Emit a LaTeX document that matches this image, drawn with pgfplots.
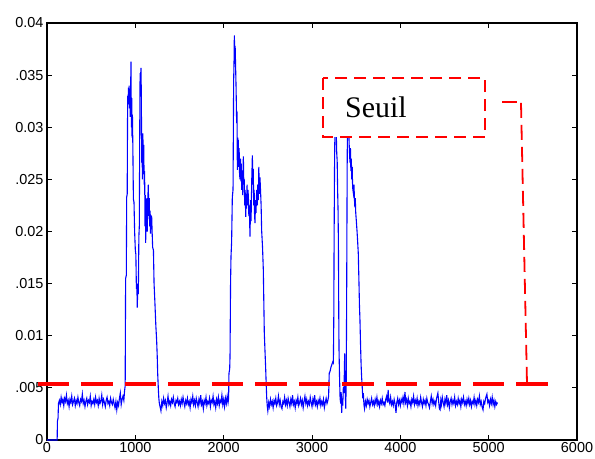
\documentclass[border=0pt]{standalone}
\usepackage{fontspec}
\setmainfont{Liberation Sans}
\newfontfamily\seuilfont{Liberation Serif}
\usepackage{pgfplots}
\pgfplotsset{compat=1.18}

\definecolor{sigblue}{RGB}{0,0,255}
\definecolor{seuilred}{RGB}{255,0,0}

\begin{document}
\begin{tikzpicture}
\begin{axis}[
  scale only axis, width=530bp, height=417bp,
  xmin=0, xmax=6000, ymin=0, ymax=0.04,
  axis line style={line width=1.1bp},
  tick style={black, line width=0.8bp},
  major tick length=5bp,
  tick align=inside,
  xtick={0,1000,2000,3000,4000,5000,6000},
  xticklabels={0,1000,2000,3000,4000,5000,6000},
  ytick={0,0.005,0.01,0.015,0.02,0.025,0.03,0.035,0.04},
  yticklabels={0,.005,0.01,.015,0.02,.025,0.03,.035,0.04},
  scaled y ticks=false,
  ticklabel style={font=\fontsize{14.5}{17}\selectfont},
  xticklabel style={yshift=1bp},
  clip=false,
]
% signal energy
\addplot[sigblue, line width=1.1bp] coordinates {
(0,0) (115,0) (118,0.0018) (125,0.0021) (130,0.0035) (140,0.0038) (150,0.0034) (160,0.0041) (170,0.0036) (180,0.0039) (190,0.0033) (200,0.0040) (210,0.0037) (220,0.0043) (230,0.0035) (240,0.0038) (250,0.0032) (260,0.0039) (270,0.0036) (280,0.0042) (290,0.0034) (300,0.0037) (310,0.0040) (320,0.0033) (330,0.0038) (340,0.0035) (350,0.0041) (360,0.0036) (370,0.0033) (380,0.0039) (390,0.0037) (400,0.0044) (410,0.0035) (420,0.0038) (430,0.0032) (440,0.0037) (450,0.0040) (460,0.0034) (470,0.0038) (480,0.0036) (490,0.0042) (500,0.0033) (510,0.0037) (520,0.0035) (530,0.0039) (540,0.0034) (550,0.0041) (560,0.0036) (570,0.0038) (580,0.0033) (590,0.0040) (600,0.0035) (610,0.0037) (620,0.0043) (630,0.0034) (640,0.0039) (650,0.0036) (660,0.0032) (670,0.0038) (680,0.0041) (690,0.0035) (700,0.0037) (710,0.0033) (720,0.0040) (730,0.0036) (740,0.0034) (750,0.0039) (760,0.0035) (770,0.0031) (780,0.0037) (790,0.0029) (800,0.0036) (810,0.0033) (820,0.0040) (830,0.0045) (840,0.0034) (850,0.0039) (860,0.0042) (870,0.0038) (878,0.0047)
(885,0.0052) (890,0.0155) (898,0.0158) (902,0.0233) (908,0.0236) (913,0.0330) (918,0.0322) (922,0.0338) (926,0.0327) (930,0.0340) (934,0.0318) (938,0.0335) (942,0.0310) (946,0.0332) (951,0.0363) (955,0.0300) (959,0.0328) (963,0.0290) (967,0.0312) (972,0.0281) (978,0.0231) (985,0.0228) (992,0.0200) (1000,0.0182) (1006,0.0178) (1012,0.0145) (1017,0.0150) (1022,0.0127) (1028,0.0150) (1034,0.0140) (1040,0.0195) (1045,0.0205) (1050,0.0300) (1054,0.0352) (1058,0.0345) (1064,0.0357) (1068,0.0330) (1072,0.0266) (1076,0.0290) (1080,0.0250) (1085,0.0294) (1090,0.0270) (1095,0.0283) (1100,0.0245) (1105,0.0258) (1110,0.0205) (1114,0.0235) (1117,0.0189) (1121,0.0226) (1125,0.0210) (1130,0.0232) (1135,0.0200) (1140,0.0228) (1147,0.0245) (1152,0.0215) (1157,0.0232) (1162,0.0205) (1166,0.0220) (1172,0.0198) (1178,0.0215) (1185,0.0214) (1190,0.0200) (1196,0.0185) (1205,0.0182) (1212,0.0150) (1222,0.0131) (1232,0.0110) (1241,0.0096) (1248,0.0080) (1253,0.0064) (1260,0.0050) (1266,0.0040) (1272,0.0035) (1280,0.0032) (1290,0.0028)
(1300,0.0037) (1310,0.0033) (1320,0.0040) (1330,0.0035) (1340,0.0038) (1350,0.0031) (1360,0.0036) (1370,0.0042) (1380,0.0034) (1390,0.0037) (1400,0.0033) (1410,0.0039) (1420,0.0036) (1430,0.0041) (1440,0.0035) (1450,0.0032) (1460,0.0038) (1470,0.0036) (1480,0.0040) (1490,0.0034) (1500,0.0037) (1510,0.0033) (1520,0.0039) (1530,0.0035) (1540,0.0041) (1550,0.0036) (1560,0.0032) (1570,0.0038) (1580,0.0035) (1590,0.0040) (1600,0.0034) (1610,0.0037) (1620,0.0031) (1630,0.0039) (1640,0.0036) (1650,0.0042) (1660,0.0034) (1670,0.0038) (1680,0.0033) (1690,0.0040) (1700,0.0036) (1710,0.0032) (1720,0.0039) (1730,0.0035) (1740,0.0043) (1750,0.0034) (1760,0.0037) (1770,0.0030) (1780,0.0038) (1790,0.0035) (1800,0.0041) (1810,0.0033) (1820,0.0037) (1830,0.0035) (1840,0.0040) (1850,0.0032) (1860,0.0038) (1870,0.0036) (1880,0.0042) (1890,0.0034) (1900,0.0037) (1910,0.0031) (1920,0.0039) (1930,0.0035) (1940,0.0041) (1950,0.0033) (1960,0.0038) (1970,0.0036) (1980,0.0043) (1990,0.0034) (2000,0.0039) (2010,0.0032) (2020,0.0040) (2030,0.0035) (2040,0.0042) (2050,0.0036)
(2056,0.0040) (2060,0.0064) (2068,0.0068) (2072,0.0080) (2078,0.0150) (2083,0.0176) (2090,0.0190) (2098,0.0233) (2106,0.0240) (2110,0.0300) (2113,0.0345) (2117,0.0360) (2121,0.0388) (2125,0.0370) (2130,0.0378) (2136,0.0355) (2140,0.0340) (2144,0.0320) (2147,0.0304) (2151,0.0315) (2155,0.0259) (2160,0.0290) (2163,0.0270) (2166,0.0288) (2170,0.0262) (2175,0.0280) (2180,0.0255) (2185,0.0250) (2190,0.0270) (2195,0.0248) (2200,0.0265) (2205,0.0240) (2210,0.0258) (2215,0.0235) (2220,0.0262) (2223,0.0272) (2228,0.0245) (2233,0.0250) (2238,0.0225) (2243,0.0240) (2250,0.0214) (2255,0.0236) (2260,0.0222) (2265,0.0245) (2270,0.0225) (2275,0.0240) (2280,0.0233) (2285,0.0215) (2290,0.0225) (2298,0.0195) (2305,0.0230) (2310,0.0210) (2318,0.0250) (2325,0.0273) (2330,0.0245) (2335,0.0260) (2340,0.0225) (2345,0.0240) (2350,0.0215) (2355,0.0208) (2360,0.0230) (2366,0.0218) (2374,0.0240) (2380,0.0225) (2386,0.0245) (2392,0.0230) (2398,0.0262) (2404,0.0236) (2411,0.0252) (2418,0.0238) (2424,0.0225) (2430,0.0201) (2440,0.0185) (2449,0.0163) (2455,0.0130) (2460,0.0103) (2468,0.0085) (2475,0.0070) (2481,0.0055) (2487,0.0041) (2493,0.0033) (2500,0.0028)
(2510,0.0036) (2520,0.0032) (2530,0.0039) (2540,0.0034) (2550,0.0037) (2560,0.0031) (2570,0.0038) (2580,0.0035) (2590,0.0040) (2600,0.0033) (2610,0.0036) (2620,0.0042) (2630,0.0034) (2640,0.0038) (2650,0.0032) (2660,0.0030) (2670,0.0037) (2680,0.0035) (2690,0.0041) (2700,0.0034) (2710,0.0038) (2720,0.0033) (2730,0.0040) (2740,0.0036) (2750,0.0032) (2760,0.0039) (2770,0.0035) (2780,0.0043) (2790,0.0034) (2800,0.0037) (2810,0.0031) (2820,0.0038) (2830,0.0035) (2840,0.0041) (2850,0.0033) (2860,0.0036) (2870,0.0040) (2880,0.0034) (2890,0.0038) (2900,0.0031) (2910,0.0037) (2920,0.0042) (2930,0.0035) (2940,0.0039) (2950,0.0033) (2960,0.0037) (2970,0.0034) (2980,0.0041) (2990,0.0036) (3000,0.0032) (3010,0.0039) (3020,0.0035) (3030,0.0043) (3040,0.0034) (3050,0.0037) (3060,0.0032) (3070,0.0038) (3080,0.0035) (3090,0.0040) (3100,0.0033) (3110,0.0037) (3120,0.0034) (3130,0.0039) (3140,0.0031) (3150,0.0036) (3160,0.0040) (3170,0.0035) (3180,0.0038) (3188,0.0042)
(3195,0.0064) (3205,0.0066) (3215,0.0070) (3223,0.0072) (3235,0.0075) (3242,0.0074) (3247,0.0120) (3250,0.0189) (3255,0.0260) (3261,0.0310) (3266,0.0325) (3272,0.0300) (3276,0.0290) (3280,0.0275) (3285,0.0268) (3290,0.0240) (3295,0.0220) (3299,0.0189) (3303,0.0120) (3306,0.0086) (3312,0.0060) (3318,0.0040) (3325,0.0035) (3330,0.0046) (3336,0.0026) (3342,0.0040) (3348,0.0033) (3355,0.0051) (3362,0.0045) (3370,0.0083) (3376,0.0050) (3382,0.0030) (3388,0.0060) (3393,0.0150) (3398,0.0260) (3403,0.0320) (3410,0.0315) (3416,0.0300) (3420,0.0285) (3425,0.0275) (3430,0.0266) (3435,0.0280) (3440,0.0258) (3445,0.0270) (3450,0.0250) (3455,0.0262) (3460,0.0242) (3468,0.0237) (3475,0.0245) (3482,0.0228) (3490,0.0232) (3495,0.0218) (3502,0.0210) (3510,0.0200) (3517,0.0190) (3524,0.0179) (3532,0.0150) (3537,0.0130) (3543,0.0115) (3550,0.0090) (3556,0.0072) (3562,0.0060) (3568,0.0052) (3575,0.0040) (3581,0.0045) (3588,0.0034) (3595,0.0030)
(3605,0.0037) (3615,0.0033) (3625,0.0039) (3635,0.0035) (3645,0.0038) (3655,0.0032) (3665,0.0036) (3675,0.0040) (3685,0.0034) (3695,0.0037) (3705,0.0033) (3715,0.0039) (3725,0.0035) (3735,0.0041) (3745,0.0034) (3755,0.0037) (3765,0.0032) (3775,0.0038) (3785,0.0035) (3795,0.0040) (3805,0.0034) (3815,0.0036) (3825,0.0033) (3835,0.0039) (3845,0.0042) (3855,0.0036) (3862,0.0048) (3870,0.0038) (3880,0.0035) (3890,0.0041) (3900,0.0034) (3910,0.0037) (3920,0.0033) (3930,0.0039) (3940,0.0035) (3951,0.0026) (3960,0.0036) (3970,0.0040) (3980,0.0034) (3990,0.0038) (4000,0.0033) (4010,0.0039) (4020,0.0036) (4030,0.0041) (4040,0.0035) (4053,0.0046) (4060,0.0036) (4070,0.0039) (4080,0.0033) (4090,0.0040) (4100,0.0035) (4110,0.0037) (4120,0.0032) (4130,0.0039) (4140,0.0036) (4150,0.0042) (4160,0.0034) (4170,0.0038) (4180,0.0035) (4190,0.0040) (4200,0.0033) (4210,0.0037) (4220,0.0034) (4230,0.0041) (4240,0.0036) (4250,0.0032) (4260,0.0039) (4270,0.0035) (4280,0.0038) (4290,0.0033) (4300,0.0040) (4310,0.0036) (4320,0.0034) (4330,0.0031) (4340,0.0037) (4350,0.0042) (4360,0.0035) (4370,0.0039) (4380,0.0034) (4390,0.0037) (4400,0.0033) (4410,0.0040) (4425,0.0045) (4435,0.0036) (4442,0.0030) (4450,0.0029) (4458,0.0038) (4465,0.0034) (4475,0.0041) (4485,0.0036) (4495,0.0032) (4505,0.0039) (4515,0.0035) (4525,0.0043) (4535,0.0034) (4545,0.0038) (4555,0.0031) (4565,0.0037) (4575,0.0040) (4585,0.0034) (4595,0.0038) (4605,0.0035) (4615,0.0041) (4625,0.0033) (4635,0.0037) (4645,0.0034) (4655,0.0040) (4665,0.0035) (4675,0.0038) (4685,0.0032) (4695,0.0039) (4705,0.0036) (4715,0.0041) (4725,0.0034) (4735,0.0037) (4745,0.0033) (4755,0.0039) (4765,0.0035) (4775,0.0040) (4785,0.0034) (4795,0.0038) (4805,0.0032) (4815,0.0037) (4825,0.0035) (4835,0.0041) (4845,0.0034) (4855,0.0038) (4865,0.0033) (4875,0.0039) (4885,0.0036) (4895,0.0042) (4905,0.0034) (4915,0.0037) (4925,0.0032) (4936,0.0029) (4945,0.0037) (4955,0.0035) (4965,0.0040) (4980,0.0044) (4990,0.0036) (5000,0.0038) (5010,0.0033) (5020,0.0039) (5030,0.0035) (5040,0.0041) (5050,0.0034) (5060,0.0038) (5070,0.0032) (5080,0.0037) (5090,0.0034) (5100,0.0036)
};
% threshold
\addplot[seuilred, line width=3.6bp, dash pattern=on 31.5bp off 12bp] coordinates {(-102,0.0054) (5760,0.0054)};
% label box and its leader
\draw[seuilred, line width=1.8bp, dash pattern=on 12bp off 7bp, fill=white]
  (axis cs:3125,0.03472) rectangle (axis cs:4959,0.02906);
\node[anchor=base west, inner sep=0pt, font=\seuilfont\fontsize{30}{34}\selectfont]
  at (axis cs:3374,0.03089) {Seuil};
\draw[seuilred, line width=1.8bp, dash pattern=on 15bp off 7bp]
  (axis cs:5151,0.03242) -- (axis cs:5321,0.03242);
\draw[seuilred, line width=1.8bp, dash pattern=on 15bp off 7bp]
  (axis cs:5366,0.03233) -- (axis cs:5434,0.0054);
\end{axis}
\pgfresetboundingbox
\path (-47bp,-19bp) rectangle (548bp,440bp);
\end{tikzpicture}
\end{document}
